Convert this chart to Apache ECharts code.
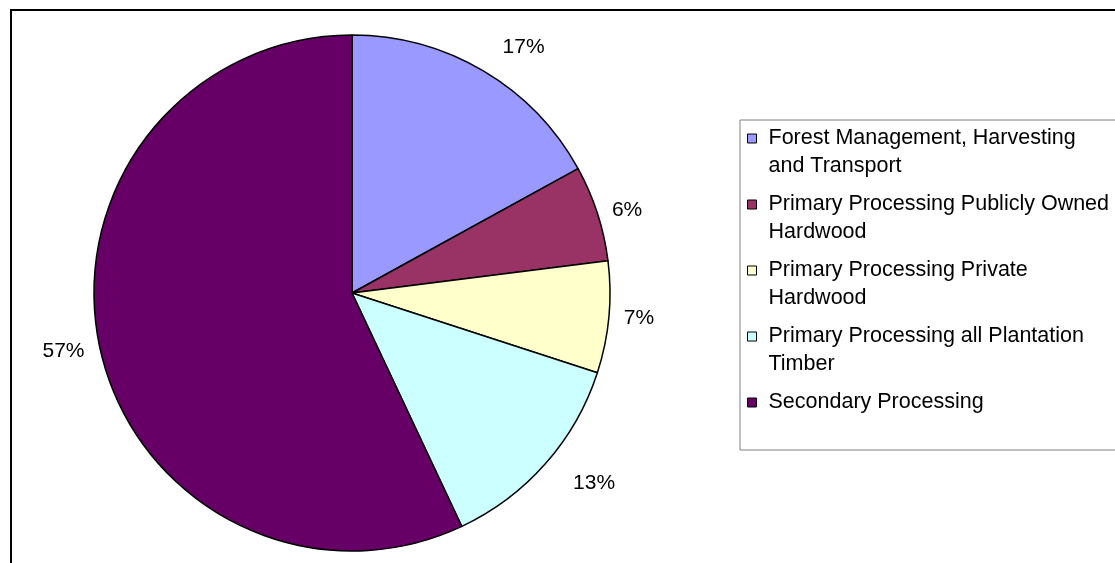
<!DOCTYPE html>
<html>
<head>
<meta charset="utf-8">
<title>Employment by Sector</title>
<script src="https://cdn.jsdelivr.net/npm/echarts@6/dist/echarts.min.js"></script>
<style>
  html, body { margin: 0; padding: 0; background: #ffffff; }
  #chart { width: 1115px; height: 563px; }
</style>
</head>
<body>
<div id="chart"></div>
<script>
// Sector names, their share (%) and the wrapped legend text
const categories = [
  'Forest Management, Harvesting and Transport',
  'Primary Processing Publicly Owned Hardwood',
  'Primary Processing Private Hardwood',
  'Primary Processing all Plantation Timber',
  'Secondary Processing'
];
const legendLines = [
  'Forest Management, Harvesting\nand Transport',
  'Primary Processing Publicly Owned\nHardwood',
  'Primary Processing Private\nHardwood',
  'Primary Processing all Plantation\nTimber',
  'Secondary Processing\n '
];
const shares = [17, 6, 7, 13, 57];
const sliceColors = ['#9999FF', '#993366', '#FFFFCC', '#CCFFFF', '#660066'];
// distance of each percentage label from the rim
const labelGaps = [28, 10, 10, 30, 11];

const FONT = "'Liberation Sans', Arial, sans-serif";

const chart = echarts.init(document.getElementById('chart'), null, { renderer: 'canvas' });

const pieData = categories.map((name, i) => ({
  name: name,
  value: shares[i],
  itemStyle: { color: sliceColors[i] },
  labelLine: { length: labelGaps[i] }
}));

const option = {
  backgroundColor: '#ffffff',
  animation: false,
  graphic: [{
    type: 'rect',
    silent: true,
    z: -10,
    shape: { x: 11, y: 10, width: 1300, height: 700 },
    style: { fill: 'none', stroke: '#000000', lineWidth: 2 }
  }],
  legend: {
    orient: 'vertical',
    left: 740,
    top: 120,
    padding: [4, 60, 5, 7],
    itemGap: 9,
    itemWidth: 16,
    itemHeight: 56,
    icon: 'path://M0,0M0,9.5h9v9h-9zM16,56',
    itemStyle: { borderColor: '#000000', borderWidth: 1 },
    backgroundColor: '#ffffff',
    borderColor: '#808080',
    borderWidth: 1,
    borderRadius: 0,
    selectedMode: false,
    data: categories,
    formatter: name => legendLines[categories.indexOf(name)],
    textStyle: {
      fontFamily: FONT,
      fontSize: 21.5,
      lineHeight: 28,
      color: '#000000'
    }
  },
  series: [{
    type: 'pie',
    center: [352, 293],
    radius: 258,
    startAngle: 90,
    clockwise: true,
    avoidLabelOverlap: false,
    silent: true,
    itemStyle: { borderColor: '#000000', borderWidth: 1.5 },
    emphasis: { disabled: true },
    label: {
      show: true,
      position: 'outside',
      formatter: p => p.value + '%',
      fontFamily: FONT,
      fontSize: 21,
      color: '#000000',
      distanceToLabelLine: 5
    },
    labelLine: { show: false, length: 12, length2: 0 },
    data: pieData
  }]
};

chart.setOption(option);
</script>
</body>
</html>
